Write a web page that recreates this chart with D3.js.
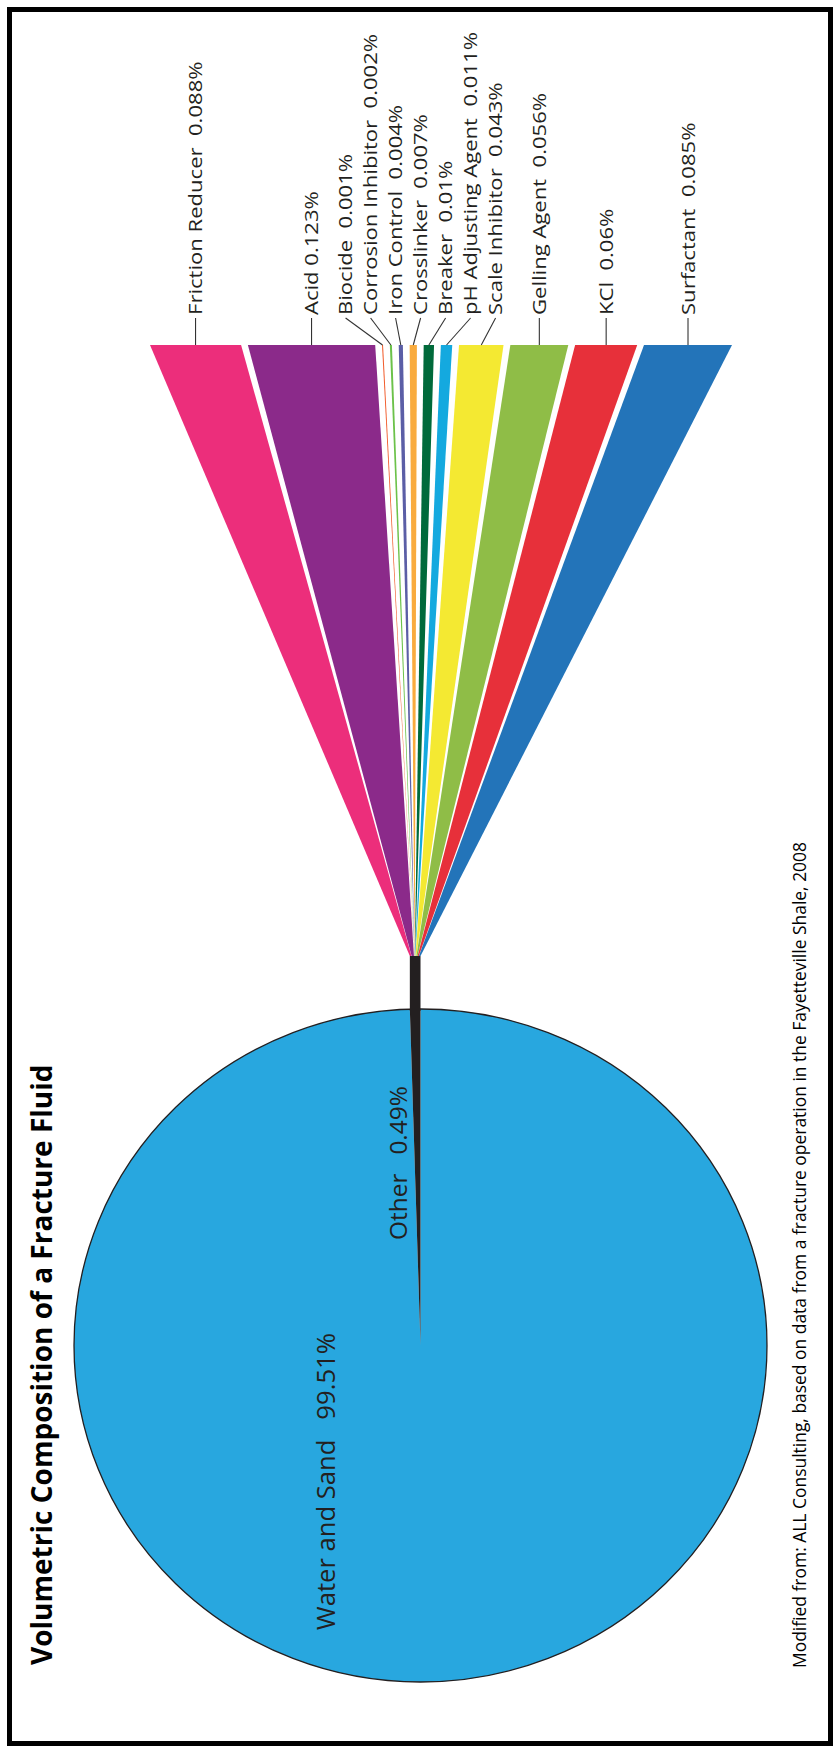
<!DOCTYPE html>
<html><head><meta charset="utf-8">
<script src="https://cdn.jsdelivr.net/npm/d3@7"></script>
<style>
html,body{margin:0;padding:0;background:#fff;}
svg{display:block;}
text{font-family:"Open Sans",sans-serif;white-space:pre;fill:#231f20;}
</style></head><body>
<svg id="chart" width="833" height="1753"></svg>
<script>
// ---------- data ----------
const title = "Volumetric Composition of a Fracture Fluid";
const source = "Modified from: ALL Consulting, based on data from a fracture operation in the Fayetteville Shale, 2008";
const mainCategories = ["Water and Sand", "Other"];
const mainValues = [99.51, 0.49];
const mainValueLabels = ["99.51%", "0.49%"];
const additiveCategories = ["Friction Reducer","Acid","Biocide","Corrosion Inhibitor","Iron Control","Crosslinker","Breaker","pH Adjusting Agent","Scale Inhibitor","Gelling Agent","KCl","Surfactant"];
const additiveValues = [0.088,0.123,0.001,0.002,0.004,0.007,0.01,0.011,0.043,0.056,0.06,0.085];
const additiveValueLabels = ["0.088%","0.123%","0.001%","0.002%","0.004%","0.007%","0.01%","0.011%","0.043%","0.056%","0.06%","0.085%"];
const mainColors = ["#28a7df","#231f20"];
const additiveColors = ["#ec2e7b","#8b2a8a","#f15a29","#6cc24a","#5b5ea6","#f9ab3e","#006a3b","#14a9df","#f4e932","#8fbd47","#e7303a","#2374b9"];

// ---------- layout ----------
const svg = d3.select("#chart");
svg.append("rect").attr("x",9.5).attr("y",9.5).attr("width",821).attr("height",1734)
  .attr("fill","none").attr("stroke","#000").attr("stroke-width",5);

const cx = 420.5, cy = 1345.5, rx = 346.5, ry = 336.5;
const fanTop = 345, fanLeft = 150, fanRight = 732;

// main pie
const pieData = d3.pie().sort(null).value(d => d)(mainValues);
const arc = d3.arc().innerRadius(0).outerRadius(rx);
const pieG = svg.append("g").attr("transform", `translate(${cx},${cy}) scale(1,${ry/rx})`);
pieG.selectAll("path.slice").data(pieData).join("path").attr("class","slice")
  .attr("d", arc).attr("fill", (d,i) => mainColors[i]);
pieG.append("ellipse").attr("cx",0).attr("cy",0).attr("rx",rx).attr("ry",rx)
  .attr("fill","none").attr("stroke","#231f20").attr("stroke-width",1.3)
  .attr("vector-effect","non-scaling-stroke");

// stem from the "Other" slice up to the fan
const other = pieData[1];
const stemX0 = cx + rx * Math.sin(other.startAngle);
const stemX1 = cx + rx * Math.sin(other.endAngle);
const apexY = 956;
svg.append("rect").attr("x", stemX0).attr("y", apexY).attr("width", stemX1 - stemX0)
  .attr("height", (cy - ry) - apexY + 2).attr("fill", mainColors[1]);

// fan of additives
const n = additiveValues.length;
const total = d3.sum(additiveValues);
const gapPx = 6.8;
const gapU = gapPx * total / ((fanRight - fanLeft) - (n - 1) * gapPx);
const T = total + (n - 1) * gapU;
const topX = d3.scaleLinear().domain([0, T]).range([fanLeft, fanRight]);
const botX = d3.scaleLinear().domain([0, T]).range([stemX0, stemX1]);
let acc = 0;
const segs = additiveValues.map((v, i) => {
  const s = acc, e = acc + v;
  acc = e + gapU;
  return {i, s, e, v};
});
svg.append("g").selectAll("path").data(segs).join("path")
  .attr("d", d => {
    const pts = [[topX(d.s), fanTop], [topX(d.e), fanTop], [botX(d.e), apexY], [botX(d.s), apexY]];
    return d3.line()(pts) + "Z";
  })
  .attr("fill", d => additiveColors[d.i]);

// labels with simple collision relaxation
const anchors = segs.map(d => topX((d.s + d.e) / 2));
const lx = anchors.slice();
const minSep = 25;
for (let it = 0; it < 800; it++) {
  for (let i = 0; i < n - 1; i++) {
    const dd = lx[i+1] - lx[i];
    if (dd < minSep) { const m = (minSep - dd) / 2; lx[i] -= m; lx[i+1] += m; }
  }
}
const labelStartY = 315;
svg.append("g").selectAll("line").data(segs).join("line")
  .attr("x1", d => anchors[d.i]).attr("y1", fanTop)
  .attr("x2", d => lx[d.i]).attr("y2", labelStartY + 3)
  .attr("stroke", "#333").attr("stroke-width", 1.1);

const labG = svg.append("g");
const labs = labG.selectAll("text").data(segs).join("text")
  .style("font-size", "18.5px")
  .attr("dy", "0.36em")
  .text(d => additiveCategories[d.i] + (d.i === 1 ? " " : "  ") + additiveValueLabels[d.i]);
// narrow the glyphs a little (Myriad-like) so the longest label fits its length
const refLen = labs.filter(d => d.i === 7).node().getComputedTextLength();
const sx = 283 / refLen;
labs.attr("transform", d => `translate(${lx[d.i]},${labelStartY}) rotate(-90) scale(${sx},1)`);

function fit(sel, target, base) {
  sel.style("font-size", base + "px");
  const len = sel.node().getComputedTextLength();
  const fs = base * target / len;
  sel.style("font-size", fs + "px");
  return fs;
}

// pie labels
const wl = svg.append("text").attr("transform", `translate(335,1630) rotate(-90)`)
  .text(mainCategories[0] + "   " + mainValueLabels[0]);
fit(wl, 297, 20);
const ol = svg.append("text").attr("transform", `translate(407,1240) rotate(-90)`)
  .text(mainCategories[1] + "   " + mainValueLabels[1]);
fit(ol, 154, 20);

// title & source
const tl = svg.append("text").attr("transform", `translate(52,1665) rotate(-90)`)
  .style("font-weight", "bold").style("fill", "#000").text(title);
fit(tl, 601, 24);
const sl = svg.append("text").attr("transform", `translate(806,1668) rotate(-90)`)
  .style("fill", "#000").text(source);
fit(sl, 827, 14);
</script>
</body></html>
